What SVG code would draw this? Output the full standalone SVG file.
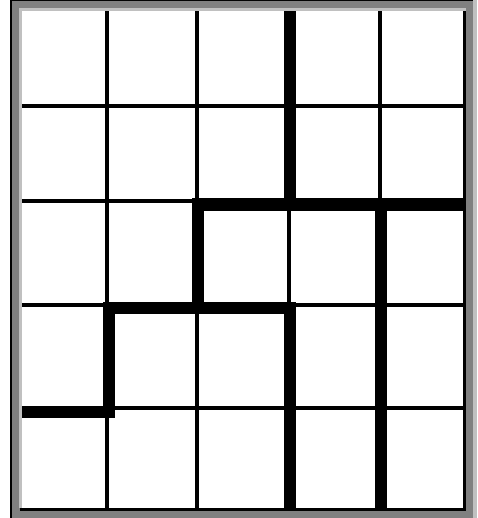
<svg xmlns="http://www.w3.org/2000/svg" width="478" height="518" viewBox="0 0 478 518">
<style>
.frame{fill:#808080}
.light{fill:#c0c0c0}
.dark{fill:#000}
.cell{fill:#fff}
.thin{fill:#000}
.thick{fill:#000}
</style>
<rect width="478" height="518" fill="#fff"/>
<g id="frame">
<rect class="frame" x="10" y="0" width="467" height="518"/>
<rect class="dark" x="10" y="0" width="2" height="518"/>
<rect class="dark" x="10" y="0" width="467" height="1"/>
<rect class="light" x="473" y="0" width="4" height="518"/>
<rect class="light" x="19" y="8" width="447" height="3"/>
<rect class="light" x="19" y="8" width="3" height="500"/>
<rect class="dark" x="463" y="11" width="3" height="500"/>
<rect class="dark" x="20" y="508" width="446" height="3"/>
<rect class="cell" x="22" y="11" width="441" height="497"/>
</g>
<g id="grid-thin">
<rect class="thin" x="105" y="11" width="4" height="497"/>
<rect class="thin" x="195" y="11" width="4" height="497"/>
<rect class="thin" x="287" y="11" width="4" height="497"/>
<rect class="thin" x="378" y="11" width="4" height="497"/>
<rect class="thin" x="22" y="104" width="441" height="4"/>
<rect class="thin" x="22" y="199" width="441" height="4"/>
<rect class="thin" x="22" y="303" width="441" height="4"/>
<rect class="thin" x="22" y="406" width="441" height="4"/>
</g>
<g id="walls">
<rect class="thick" x="103" y="302" width="12" height="116"/>
<rect class="thick" x="192" y="198" width="12" height="116"/>
<rect class="thick" x="284" y="11" width="12" height="200"/>
<rect class="thick" x="284" y="302" width="12" height="206"/>
<rect class="thick" x="375" y="198" width="12" height="310"/>
<rect class="thick" x="192" y="198" width="271" height="13"/>
<rect class="thick" x="103" y="302" width="193" height="12"/>
<rect class="thick" x="22" y="407" width="93" height="11"/>
</g>
</svg>
